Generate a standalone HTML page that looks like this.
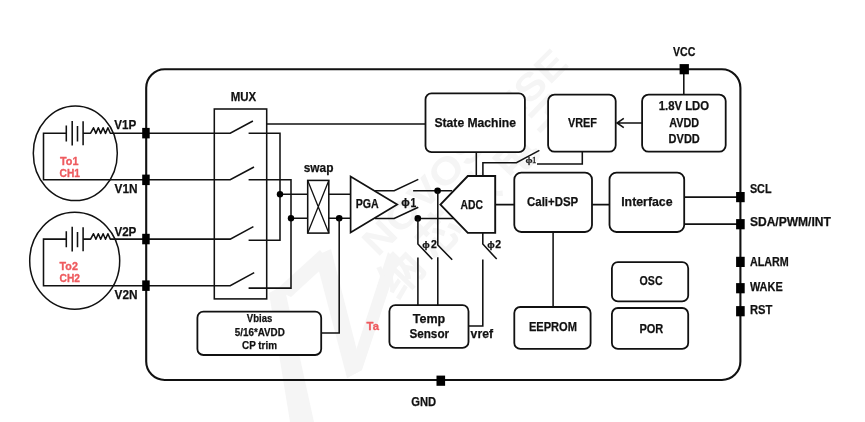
<!DOCTYPE html>
<html lang="en"><head><meta charset="utf-8"><title>Block diagram</title>
<style>
html,body{margin:0;padding:0;background:#fff;}
body{width:865px;height:422px;overflow:hidden;}
svg{display:block;will-change:transform;}
text{font-family:"Liberation Sans","Noto Sans CJK SC",sans-serif;font-weight:bold;fill:#111;stroke:#111;stroke-width:0.25px;stroke-linejoin:round;}
.r{fill:#ee5b5f;stroke:#ee5b5f;stroke-width:0.35px;}
.l{stroke:#111;stroke-width:1.55;fill:none;stroke-linecap:butt;stroke-linejoin:miter;}
.b{stroke:#111;stroke-width:1.8;fill:#fff;}
.bn{stroke:#111;stroke-width:1.7;fill:none;}
.p{fill:#000;}
.wm{fill:#f5f5f5;stroke:none;}
.wm text{stroke:none;fill:#f5f5f5;}
</style></head><body>
<svg width="865" height="422" viewBox="0 0 865 422">
<rect width="865" height="422" fill="#fff"/>
<g class="wm">
<polygon points="269,293 284,285 314,422 290,422"/>
<polygon points="276,290 320,250 329,262 291,297"/>
<polygon points="315,256 331,249 362,370 347,378"/>
<polygon points="347,378 362,370 398,262 388,252"/>
<text transform="translate(464.7,152.3) rotate(-45)" font-size="38" text-anchor="middle" dominant-baseline="central" textLength="272" lengthAdjust="spacingAndGlyphs">NOVOSENSE</text>
<text transform="translate(477,195.5) rotate(-46)" font-size="44" text-anchor="middle" dominant-baseline="central" textLength="262" lengthAdjust="spacing">纳芯微电子</text>
</g>
<rect class="bn" x="146.2" y="69.3" width="594.2" height="310.7" rx="18.5" ry="18.5" style="stroke-width:2.1"/>
<ellipse class="l" cx="75.3" cy="153.2" rx="42" ry="47.3" style="stroke-width:1.5"/>
<path class="l" d="M146 179.8 H43.5 V133.2 H66.3"/>
<path class="l" d="M66.3 125.39999999999999 V141.39999999999998 M72.2 120.89999999999999 V145.5 M77.5 125.99999999999999 V141.39999999999998 M83.1 121.29999999999998 V145.29999999999998"/>
<path class="l" d="M83.1 133.2 H90.6 l2.9 -5.4 l2.4 5.6 l2.4 -5.6 l2.4 5.6 l2.4 -5.6 l2.4 5.6 l2.4 -5.6 l2.4 5.4 H146" style="stroke-linejoin:round"/>
<ellipse class="l" cx="74.7" cy="260.8" rx="45" ry="48.5" style="stroke-width:1.5"/>
<path class="l" d="M146 285.7 H43.5 V239.1 H66.3"/>
<path class="l" d="M66.3 231.29999999999998 V247.29999999999998 M72.2 226.79999999999998 V251.4 M77.5 231.9 V247.29999999999998 M83.1 227.2 V251.2"/>
<path class="l" d="M83.1 239.1 H90.6 l2.9 -5.4 l2.4 5.6 l2.4 -5.6 l2.4 5.6 l2.4 -5.6 l2.4 5.6 l2.4 -5.6 l2.4 5.4 H146" style="stroke-linejoin:round"/>
<rect class="l" x="214.3" y="109" width="52.4" height="189.9" style="fill:none"/>
<path class="l" d="M146 133.2 H230.2 L252.9 121"/>
<path class="l" d="M146 179.8 H230.2 L254 167"/>
<path class="l" d="M146 239.1 H230.2 L253.4 226.6"/>
<path class="l" d="M146 285.7 H230.2 L254.2 272.6"/>
<path class="l" d="M248.6 133.2 H280 V240.2 H248.6"/>
<path class="l" d="M248.6 179.8 H291 V288.1 H248.6"/>
<path class="l" d="M266.7 124 H425.5"/>
<path class="l" d="M280 194.3 H307.7 M291 218.2 H307.7"/>
<circle class="p" cx="280" cy="194.3" r="3.2"/>
<circle class="p" cx="291" cy="218.2" r="3.2"/>
<rect class="l" x="307.7" y="180.4" width="21.1" height="52.7" style="fill:none"/>
<path class="l" d="M307.7 180.4 L328.8 233.1 M328.8 180.4 L307.7 233.1" style="stroke-width:1.3"/>
<path class="l" d="M328.8 194.3 H350.6 M328.8 218.3 H350.6"/>
<circle class="p" cx="339.2" cy="218.3" r="3.3"/>
<path class="l" d="M339.2 218.3 V332.9 H321.2"/>
<rect class="b" x="197.4" y="311.7" width="123.8" height="43.3" rx="6" ry="6"/>
<polygon class="bn" points="350.6,176.5 350.6,232.6 397.2,204.6" style="fill:#fff"/>
<path class="l" d="M375 190.7 H394.2 L418.3 179.4 M413.1 190.7 H452"/>
<path class="l" d="M375 218.4 H394.2 L418.3 207.2 M417.7 218.4 H454"/>
<circle class="p" cx="437.6" cy="190.7" r="3.3"/>
<circle class="p" cx="417.8" cy="218.4" r="3.3"/>
<polygon class="bn" points="440.4,204.6 467.8,176 495.2,176 495.2,232.9 467.8,232.9" style="fill:#fff;stroke-width:1.9"/>
<path class="l" d="M417.9 218.4 V244 L432.3 259.2 M417.9 257.5 V305"/>
<path class="l" d="M437.8 190.7 V245 L452.2 259.8 M437.8 257.3 V305"/>
<path class="l" d="M482.8 232.9 V244 L496.7 259.1 M482.8 259.5 V325.9 H468.5"/>
<rect class="b" x="389.4" y="305.2" width="79.1" height="42.7" rx="6" ry="6"/>
<rect class="b" x="425.5" y="93.4" width="99.4" height="58.7" rx="6" ry="6"/>
<path class="l" d="M476.3 152.1 V176"/>
<path class="l" d="M482.9 176 V162.8 H516.4 L539.4 150.4 M537 163.9 H582.3 V151.7"/>
<rect class="b" x="548.1" y="94.6" width="67.6" height="57.1" rx="6.5" ry="6.5"/>
<rect class="b" x="642.1" y="94.6" width="83.6" height="57.1" rx="6.5" ry="6.5"/>
<path class="l" d="M642.1 123 H617.2 M623.8 118.4 L617 123 L623.8 127.6"/>
<path class="l" d="M683.8 69.6 V94.6"/>
<rect class="b" x="514.3" y="172.6" width="77.7" height="59.4" rx="7" ry="7"/>
<path class="l" d="M495.2 204.6 H514.3 M592 204.6 H609.5"/>
<rect class="b" x="609.5" y="172.6" width="74.7" height="59.4" rx="7" ry="7"/>
<path class="l" d="M684.2 197.1 H740 M684.2 224.1 H740"/>
<path class="l" d="M553.1 232 V307"/>
<rect class="b" x="514.3" y="307" width="76.3" height="41.9" rx="6" ry="6"/>
<rect class="b" x="611.9" y="262.2" width="76.3" height="39.2" rx="6" ry="6"/>
<rect class="b" x="611.9" y="308" width="76.3" height="40.9" rx="6" ry="6"/>
<rect class="p" x="142.2" y="127.9" width="7.5" height="10.5"/>
<rect class="p" x="142.2" y="174.6" width="7.5" height="10.5"/>
<rect class="p" x="142.2" y="233.8" width="7.5" height="10.5"/>
<rect class="p" x="142.2" y="280.4" width="7.5" height="10.5"/>
<rect class="p" x="736.1" y="192.0" width="8.6" height="10.2"/>
<rect class="p" x="736.1" y="219.1" width="8.6" height="10.2"/>
<rect class="p" x="736.1" y="256.8" width="8.6" height="10.2"/>
<rect class="p" x="736.1" y="283.1" width="8.6" height="10.2"/>
<rect class="p" x="736.1" y="306.1" width="8.6" height="10.2"/>
<rect class="p" x="679.6" y="64.1" width="9.3" height="10.2"/>
<rect class="p" x="436.5" y="375.6" width="8.6" height="10.2"/>
<text x="230.7" y="101.2" font-size="13" textLength="25.5" lengthAdjust="spacingAndGlyphs">MUX</text>
<text x="303.7" y="172.2" font-size="13" textLength="29.8" lengthAdjust="spacingAndGlyphs">swap</text>
<text x="355.7" y="208.2" font-size="13" textLength="23" lengthAdjust="spacingAndGlyphs">PGA</text>
<text x="401.16" y="205.84" font-size="11.37">ϕ</text>
<text x="410.40" y="207.10" font-size="12.21" textLength="5.8" lengthAdjust="spacingAndGlyphs">1</text>
<text x="460.5" y="208.7" font-size="13" textLength="22.4" lengthAdjust="spacingAndGlyphs">ADC</text>
<text x="422.31" y="247.53" font-size="9.98">ϕ</text>
<text x="430.90" y="248.10" font-size="10.47">2</text>
<text x="487.21" y="247.53" font-size="9.98">ϕ</text>
<text x="495.30" y="248.10" font-size="10.47">2</text>
<text x="525.4" y="162.95" font-size="9.15" textLength="7.1" lengthAdjust="spacingAndGlyphs" style="font-family:'Liberation Serif',serif;font-weight:normal;stroke-width:0.3px">ϕ</text>
<text x="532.1" y="163.2" font-size="8.8" style="font-family:'Liberation Serif',serif;font-weight:normal;stroke-width:0.3px">1</text>
<text x="434.5" y="126.7" font-size="13" textLength="81.5" lengthAdjust="spacingAndGlyphs">State Machine</text>
<text x="568" y="127" font-size="13" textLength="29" lengthAdjust="spacingAndGlyphs">VREF</text>
<text x="658.7" y="109.8" font-size="12.5" textLength="50.4" lengthAdjust="spacingAndGlyphs">1.8V LDO</text>
<text x="669.3" y="126.9" font-size="12.5" textLength="29.9" lengthAdjust="spacingAndGlyphs">AVDD</text>
<text x="668.6" y="143.2" font-size="12.5" textLength="31.2" lengthAdjust="spacingAndGlyphs">DVDD</text>
<text x="527" y="205.8" font-size="13" textLength="51.2" lengthAdjust="spacingAndGlyphs">Cali+DSP</text>
<text x="621.2" y="205.8" font-size="13" textLength="51.4" lengthAdjust="spacingAndGlyphs">Interface</text>
<text x="528.9" y="331.3" font-size="13" textLength="48.1" lengthAdjust="spacingAndGlyphs">EEPROM</text>
<text x="639.6" y="284.8" font-size="12.8" textLength="23" lengthAdjust="spacingAndGlyphs">OSC</text>
<text x="639.4" y="333" font-size="13" textLength="23.9" lengthAdjust="spacingAndGlyphs">POR</text>
<text x="412.7" y="322.5" font-size="13" textLength="32.5" lengthAdjust="spacingAndGlyphs">Temp</text>
<text x="409.4" y="338" font-size="13" textLength="39.7" lengthAdjust="spacingAndGlyphs">Sensor</text>
<text x="470.6" y="338" font-size="13" textLength="22.4" lengthAdjust="spacingAndGlyphs">vref</text>
<text x="366.6" y="329.8" font-size="11.5" textLength="12.3" lengthAdjust="spacingAndGlyphs" class="r">Ta</text>
<text x="259.6" y="322.4" font-size="11.5" textLength="25.5" lengthAdjust="spacingAndGlyphs" text-anchor="middle">Vbias</text>
<text x="259.8" y="336" font-size="11.5" textLength="50" lengthAdjust="spacingAndGlyphs" text-anchor="middle">5/16*AVDD</text>
<text x="259.5" y="348.8" font-size="11.5" textLength="35" lengthAdjust="spacingAndGlyphs" text-anchor="middle">CP trim</text>
<text x="60" y="164.5" font-size="11.5" textLength="18.4" lengthAdjust="spacingAndGlyphs" class="r">To1</text>
<text x="59.6" y="176.6" font-size="11.5" textLength="20.4" lengthAdjust="spacingAndGlyphs" class="r">CH1</text>
<text x="59.6" y="270" font-size="11.5" textLength="18.3" lengthAdjust="spacingAndGlyphs" class="r">To2</text>
<text x="59.6" y="281.8" font-size="11.5" textLength="20.4" lengthAdjust="spacingAndGlyphs" class="r">CH2</text>
<text x="114.2" y="129" font-size="13" textLength="22" lengthAdjust="spacingAndGlyphs">V1P</text>
<text x="114.5" y="192.5" font-size="13" textLength="23" lengthAdjust="spacingAndGlyphs">V1N</text>
<text x="114.4" y="235.9" font-size="13" textLength="22" lengthAdjust="spacingAndGlyphs">V2P</text>
<text x="114.5" y="298.5" font-size="13" textLength="23" lengthAdjust="spacingAndGlyphs">V2N</text>
<text x="673" y="55.9" font-size="13" textLength="22.4" lengthAdjust="spacingAndGlyphs">VCC</text>
<text x="411.2" y="405.6" font-size="13" textLength="24.9" lengthAdjust="spacingAndGlyphs">GND</text>
<text x="749.9" y="192.6" font-size="12.5" textLength="21.6" lengthAdjust="spacingAndGlyphs">SCL</text>
<text x="749.9" y="226.4" font-size="12.5" textLength="81" lengthAdjust="spacingAndGlyphs">SDA/PWM/INT</text>
<text x="749.9" y="265.5" font-size="12.5" textLength="38.8" lengthAdjust="spacingAndGlyphs">ALARM</text>
<text x="749.9" y="291.3" font-size="12.5" textLength="32.8" lengthAdjust="spacingAndGlyphs">WAKE</text>
<text x="749.9" y="314.2" font-size="12.5" textLength="22.4" lengthAdjust="spacingAndGlyphs">RST</text>
</svg></body></html>
